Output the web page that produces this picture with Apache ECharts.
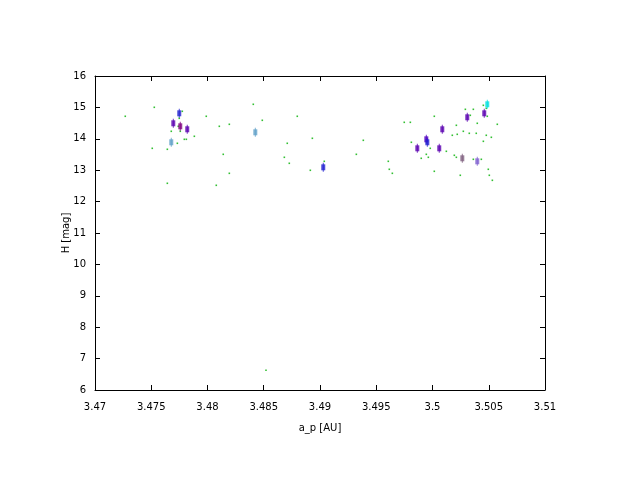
<!DOCTYPE html>
<html>
<head>
<meta charset="utf-8">
<script src="https://cdn.jsdelivr.net/npm/echarts@6/dist/echarts.min.js"></script>
<style>html,body{margin:0;padding:0;background:#fff}#c{width:640px;height:480px}</style>
</head>
<body>
<div id="c"></div>
<script>
var xTicks = [3.47, 3.475, 3.48, 3.485, 3.49, 3.495, 3.5, 3.505, 3.51];
var yTicks = [6, 7, 8, 9, 10, 11, 12, 13, 14, 15, 16];

var bgX = [3.47269,3.47527,3.47509,3.47643,3.47678,3.47749,3.47776,3.47740,3.47758,3.47732,3.47794,3.47812,3.47883,3.47989,3.48105,3.48194,3.48140,3.48194,3.47643,3.48078,3.48407,3.48487,3.48798,3.48709,3.48932,3.48683,3.48727,3.48914,3.49038,3.49385,3.49323,3.49607,3.49616,3.48520,3.49643,3.49749,3.49803,3.49812,3.50016,3.49980,3.49945,3.49900,3.49963,3.50016,3.50123,3.50176,3.50212,3.50220,3.50274,3.50292,3.50336,3.50363,3.50327,3.50389,3.50398,3.50194,3.50212,3.50247,3.50363,3.50434,3.50452,3.50478,3.50487,3.50452,3.50478,3.50523,3.50576,3.50496,3.50505,3.50532];
var bgY = [14.717,15.003,13.697,13.666,14.239,14.653,14.876,14.398,14.239,13.857,13.984,13.984,14.080,14.717,14.398,14.462,13.506,12.901,12.583,12.519,15.099,14.589,14.717,13.857,14.016,13.411,13.220,12.997,13.283,13.952,13.506,13.283,13.029,6.627,12.901,14.525,14.525,13.889,14.717,13.697,13.506,13.379,13.411,12.965,13.602,14.112,14.430,14.143,14.239,14.939,14.748,14.939,14.175,14.175,14.494,13.475,13.411,12.838,13.347,13.347,15.067,14.971,14.717,13.920,14.112,14.048,14.462,13.029,12.838,12.678];

var mkX = [3.47749,3.47696,3.47758,3.47820,3.47678,3.48425,3.49029,3.49865,3.49945,3.49954,3.50060,3.50087,3.50265,3.50398,3.50309,3.50460,3.50487];
var mkY = [14.812,14.494,14.398,14.303,13.889,14.207,13.092,13.697,13.984,13.889,13.697,14.303,13.379,13.283,14.685,14.812,15.099];
var mkColor = ['#2020d0','#5a00b0','#800080','#5a00b0','#60a0c8','#60a0c8','#2020d0','#5a00b0','#5000c0','#2020d0','#5a00b0','#5a00b0','#806080','#8060d0','#5a00b0','#5a00b0','#00e0e0'];

var bgData = bgX.map(function(x,i){return [x,bgY[i]];});
var mkData = mkX.map(function(x,i){return {value:[x,mkY[i]], itemStyle:{color:mkColor[i]}};});

var font = 'DejaVu Sans';
var labelStyle = {fontFamily: font, fontSize: 10, color: '#000'};
function xAx(pos, show){
  return {type:'value', position:pos, min:3.47, max:3.51, interval:0.005,
    axisLine:{show:true, onZero:false, lineStyle:{color:'#000', width:1}},
    axisTick:{show:true, inside:true, length:5, lineStyle:{color:'#000'}},
    axisLabel:Object.assign({show:show, margin:12, formatter:function(v){return String(+v.toFixed(3));}}, labelStyle),
    splitLine:{show:false},
    name: show ? 'a_p [AU]' : '', nameLocation:'middle', nameGap:33, nameMoveOverlap:false,
    nameTextStyle:{fontFamily:font, fontSize:10, color:'#000'}};
}
function yAx(pos, show){
  return {type:'value', position:pos, min:6, max:16, interval:1,
    axisLine:{show:true, onZero:false, lineStyle:{color:'#000', width:1}},
    axisTick:{show:true, inside:true, length:5, lineStyle:{color:'#000'}},
    axisLabel:Object.assign({show:show, margin:9}, labelStyle),
    splitLine:{show:false},
    name: show ? 'H [mag]' : '', nameLocation:'middle', nameGap:24, nameMoveOverlap:false,
    nameTextStyle:{fontFamily:font, fontSize:10, color:'#000'}};
}

var chart = echarts.init(document.getElementById('c'), null, {renderer:'canvas'});
chart.setOption({
  animation:false,
  backgroundColor:'#fff',
  grid:{left:95, right:95, top:76, bottom:90, containLabel:false},
  xAxis:[xAx('bottom', true), xAx('top', false)],
  yAxis:[yAx('left', true), yAx('right', false)],
  series:[
    {type:'scatter', xAxisIndex:0, yAxisIndex:0, data:bgData, symbol:'rect', symbolSize:[1.6,1.6],
     itemStyle:{color:'#00b000'}, silent:true},
    {type:'scatter', xAxisIndex:0, yAxisIndex:0, data:mkData, symbol:'rect', symbolSize:[1,9], silent:true},
    {type:'scatter', xAxisIndex:0, yAxisIndex:0, data:mkData, symbol:'rect', symbolSize:[4,6], silent:true}
  ]
});
</script>
</body>
</html>
